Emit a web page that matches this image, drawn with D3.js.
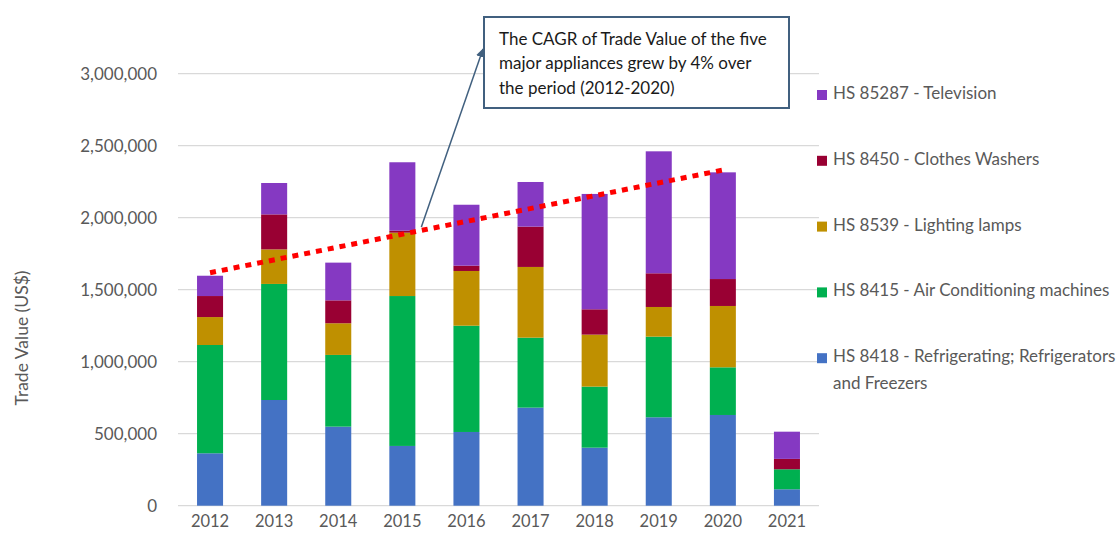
<!DOCTYPE html>
<html>
<head>
<meta charset="utf-8">
<script src="https://cdn.jsdelivr.net/npm/d3@7"></script>
<style>
  html, body { margin: 0; padding: 0; background: #fff; }
  svg { display: block; font-family: Lato, "Open Sans", sans-serif; }
</style>
</head>
<body>
<svg id="chart" width="1118" height="539"></svg>
<script>
// Yearly trade value (US$) of the five major appliances, by HS code
const years = ["2012", "2013", "2014", "2015", "2016", "2017", "2018", "2019", "2020", "2021"];
const refrigerators = [364000, 734000, 549000, 415000, 512000, 681000, 403000, 614000, 630000, 114000];
const airConditioning = [752000, 806000, 498000, 1041000, 738000, 486000, 424000, 560000, 331000, 139000];
const lightingLamps = [194000, 240000, 220000, 440000, 380000, 491000, 361000, 206000, 426000, 0];
const clothesWashers = [146000, 243000, 159000, 14000, 37000, 280000, 176000, 234000, 187000, 72000];
const television = [141000, 218000, 262000, 475000, 423000, 310000, 801000, 847000, 741000, 189000];

const seriesNames = [
  "HS 8418 - Refrigerating; Refrigerators and Freezers",
  "HS 8415 - Air Conditioning machines",
  "HS 8539 - Lighting lamps",
  "HS 8450 - Clothes Washers",
  "HS 85287 - Television"
];
const seriesColors = ["#4472C4", "#00B050", "#BF9000", "#990033", "#8539C2"];
const yTicks = [0, 500000, 1000000, 1500000, 2000000, 2500000, 3000000];

// Trend of the total, 2012 to 2020
const trendYears = ["2012", "2020"];
const trendValues = [1618000, 2331000];

const annotationLines = [
  "The CAGR of Trade Value of the five",
  "major appliances grew by 4% over",
  "the period (2012-2020)"
];

const keys = ["refrigerators", "airConditioning", "lightingLamps", "clothesWashers", "television"];
const table = years.map((y, i) => ({
  year: y,
  refrigerators: refrigerators[i],
  airConditioning: airConditioning[i],
  lightingLamps: lightingLamps[i],
  clothesWashers: clothesWashers[i],
  television: television[i]
}));

const svg = d3.select("#chart");
const plot = { left: 178, right: 819, top: 73.7, bottom: 505.7 };
const textColor = "#595959";

const x = d3.scaleBand().domain(years).range([plot.left, plot.right]).paddingInner(0.594).paddingOuter(0.297);
const y = d3.scaleLinear().domain([0, 3000000]).range([plot.bottom, plot.top]);

// Horizontal gridlines
svg.append("g").selectAll("line").data(yTicks).join("line")
  .attr("x1", plot.left).attr("x2", plot.right)
  .attr("y1", d => y(d)).attr("y2", d => y(d))
  .attr("stroke", "#d9d9d9").attr("stroke-width", 1.2);

// Y axis labels
const yAxis = d3.axisLeft(y).tickValues(yTicks).tickFormat(d3.format(",")).tickSize(0).tickPadding(0);
const yg = svg.append("g").attr("transform", `translate(157,0)`).call(yAxis);
yg.select(".domain").remove();
yg.selectAll("text").attr("fill", textColor).style("font-size", "17px").style("font-family", "Lato, sans-serif");

// X axis labels
const xAxis = d3.axisBottom(x).tickSize(0).tickPadding(0);
const xg = svg.append("g").attr("transform", `translate(0,${plot.bottom + 10})`).call(xAxis);
xg.select(".domain").remove();
xg.selectAll("text").attr("fill", textColor).style("font-size", "16.5px").style("font-family", "Lato, sans-serif");

// Y axis title
svg.append("text")
  .attr("transform", "translate(24,338) rotate(-90)")
  .attr("text-anchor", "middle")
  .attr("dominant-baseline", "middle")
  .attr("fill", textColor)
  .style("font-size", "17.5px")
  .text("Trade Value (US$)");

// Stacked bars
const stacked = d3.stack().keys(keys)(table);
svg.append("g").selectAll("g").data(stacked).join("g")
  .attr("fill", (d, i) => seriesColors[i])
  .selectAll("rect").data(d => d).join("rect")
  .attr("x", d => x(d.data.year))
  .attr("width", x.bandwidth())
  .attr("y", d => y(d[1]))
  .attr("height", d => y(d[0]) - y(d[1]));

// Dotted trend line
const trendLine = d3.line().x(d => x(d[0]) + x.bandwidth() / 2).y(d => y(d[1]));
svg.append("path")
  .datum(trendYears.map((yr, i) => [yr, trendValues[i]]))
  .attr("d", trendLine)
  .attr("fill", "none")
  .attr("stroke", "#FF0000")
  .attr("stroke-width", 5)
  .attr("stroke-dasharray", "6,6");

// Callout box with its pointer
const calloutColor = "#41607F";
svg.append("defs").append("marker")
  .attr("id", "arrowhead")
  .attr("viewBox", "0 0 10 10")
  .attr("refX", 9).attr("refY", 5)
  .attr("markerWidth", 6).attr("markerHeight", 6)
  .attr("orient", "auto")
  .append("path").attr("d", "M0,0 L10,5 L0,10 z").attr("fill", calloutColor);

const pointerYear = "2015";
const pointerStart = [x(pointerYear) + x.bandwidth() / 2 + 19, 227];
svg.append("line")
  .attr("x1", pointerStart[0]).attr("y1", pointerStart[1])
  .attr("x2", 483).attr("y2", 49)
  .attr("stroke", calloutColor).attr("stroke-width", 1.5)
  .attr("marker-end", "url(#arrowhead)");

svg.append("rect")
  .attr("x", 484).attr("y", 17).attr("width", 305).attr("height", 91)
  .attr("fill", "#fff").attr("stroke", calloutColor).attr("stroke-width", 2);

svg.append("text")
  .attr("fill", "#1a1a1a")
  .style("font-size", "17px")
  .selectAll("tspan").data(annotationLines).join("tspan")
  .attr("x", 499)
  .attr("y", (d, i) => 45 + i * 24.3)
  .text(d => d);

// Legend, top series first
const legendRows = [4, 3, 2, 1, 0];
const legend = svg.append("g");
legendRows.forEach((si, row) => {
  const cy = 95 + row * 65.8;
  legend.append("rect")
    .attr("x", 817).attr("y", cy - 5).attr("width", 10).attr("height", 10)
    .attr("fill", seriesColors[si]);
  const t = legend.append("text")
    .attr("fill", textColor)
    .style("font-size", "17px")
    .attr("dominant-baseline", "middle");
  if (si === 0) {
    t.append("tspan").attr("x", 833).attr("y", cy).text("HS 8418 - Refrigerating; Refrigerators");
    t.append("tspan").attr("x", 833).attr("y", cy + 26.5).text("and Freezers");
  } else {
    t.append("tspan").attr("x", 833).attr("y", cy).text(seriesNames[si]);
  }
});
</script>
</body>
</html>
